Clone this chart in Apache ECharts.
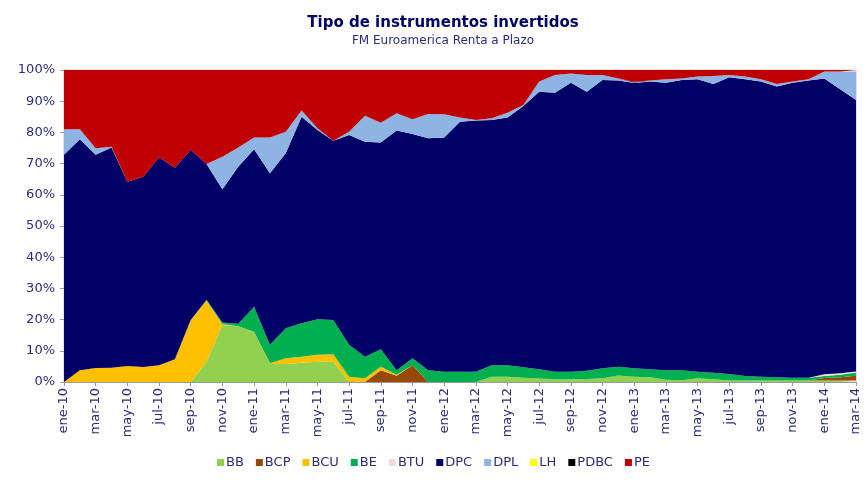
<!DOCTYPE html>
<html><head><meta charset="utf-8">
<script src="https://cdn.jsdelivr.net/npm/echarts@6/dist/echarts.min.js"></script>
<style>html,body{margin:0;padding:0;background:#fff}#c{width:867px;height:486px}</style>
</head><body><div id="c"></div>
<script>
const categories = ["ene-10","feb-10","mar-10","abr-10","may-10","jun-10","jul-10","ago-10","sep-10","oct-10","nov-10","dic-10",
"ene-11","feb-11","mar-11","abr-11","may-11","jun-11","jul-11","ago-11","sep-11","oct-11","nov-11","dic-11",
"ene-12","feb-12","mar-12","abr-12","may-12","jun-12","jul-12","ago-12","sep-12","oct-12","nov-12","dic-12",
"ene-13","feb-13","mar-13","abr-13","may-13","jun-13","jul-13","ago-13","sep-13","oct-13","nov-13","dic-13",
"ene-14","feb-14","mar-14"];
const BB   = [0,0,0,0,0,0,0,0,0,6.5,18.3,17.9,16.1,5.8,5.8,6.2,6.5,6.5,0,0,0,0,0,0,0,0,0,1.7,1.7,1.4,1.1,0.9,0.9,1.0,1.2,2.1,1.7,1.5,0.7,0.6,1.2,0.9,0.5,0.5,0.5,0.5,0.5,0.5,0.5,0.5,0.5];
const BCP  = [0,0,0,0,0,0,0,0,0,0,0,0,0,0,0,0,0,0,0,0,3.8,2.0,5.4,0,0,0,0,0,0,0,0,0,0,0,0,0,0,0,0,0,0,0,0,0,0,0,0,0,0.8,1.0,1.5];
const BCU  = [0,3.8,4.5,4.6,5.1,4.8,5.4,7.3,19.9,19.6,0.3,0,0,0.2,1.8,1.9,2.2,2.4,1.7,1.2,1.1,0.3,0,0,0,0,0,0,0,0,0,0,0,0,0,0,0,0,0,0,0,0,0,0,0,0,0,0,0,0,0];
const BE   = [0,0,0,0,0,0,0,0,0,0.3,0.5,0.8,8.0,5.9,9.6,10.7,11.4,11.0,10.2,6.9,5.6,1.5,2.2,3.8,3.3,3.3,3.3,3.7,3.7,3.3,3.0,2.4,2.4,2.6,3.2,2.8,2.7,2.6,3.1,3.2,2.1,2.1,2.1,1.4,1.2,1.0,0.9,0.9,0.6,0.8,1.0];
const BTU  = [0,0,0,0,0,0,0,0,0,0,0,0,0,0,0,0,0,0,0,0,0,0,0,0,0,0,0,0,0,0,0,0,0,0,0,0,0,0,0,0,0,0,0,0,0,0,0,0,0.6,0.5,0.4];
const DPC  = [72.8,74.0,68.3,70.6,59.1,61.0,66.6,61.4,54.5,43.5,42.7,50.3,50.5,55.0,56.1,66.2,60.7,57.4,67.3,68.9,66.3,76.8,71.9,74.3,75.1,80.1,80.5,78.6,79.4,83.8,88.9,89.4,92.6,89.4,92.4,91.7,91.4,92.2,92.1,93.0,93.7,92.5,95.1,95.1,94.6,93.2,94.5,95.2,94.8,91.0,87.0];
const DPL  = [8.2,3.2,2.1,0.2,0,0,0,0,0,0,10.4,6.2,3.8,11.5,6.9,2.0,0.5,0,1.0,8.3,6.3,5.5,4.7,7.8,7.4,1.4,0.2,0.5,1.5,0.3,3.3,5.7,3.0,5.4,1.6,0.7,0.2,0.3,1.1,0.5,0.9,2.6,0.7,0.9,0.7,0.8,0.4,0.4,2.2,5.7,9.1];
const LH   = [0,0,0,0,0,0,0,0,0,0,0,0,0,0,0,0,0,0,0,0,0,0,0,0,0,0,0,0,0,0,0,0,0,0,0,0,0,0,0,0,0,0,0,0,0,0,0,0,0,0,0];
const PDBC = [0,0,0,0,0,0,0,0,0,0,0,0,0,0,0,0,0,0,0,0,0,0,0,0,0,0,0,0,0,0,0,0,0,0,0,0,0.2,0,0,0,0,0,0,0,0,0,0,0,0,0,0];
const PE   = [19.0,19.0,25.1,24.6,35.8,34.2,28.0,31.3,25.6,30.1,27.8,24.8,21.6,21.6,19.8,13.0,18.7,22.7,19.8,14.7,16.9,13.9,15.8,14.1,14.2,15.2,16.0,15.5,13.7,11.2,3.7,1.6,1.1,1.6,1.6,2.7,3.8,3.4,3.0,2.7,2.1,1.9,1.6,2.1,3.0,4.5,3.7,3.0,0.5,0.5,0.5];

const names  = ["BB","BCP","BCU","BE","BTU","DPC","DPL","LH","PDBC","PE"];
const values = [BB,BCP,BCU,BE,BTU,DPC,DPL,LH,PDBC,PE];
const colors = ["#92D050","#984807","#FFC000","#00B050","#F2DCDB","#000066","#8DB4E2","#FFFF00","#000000","#C00000"];

const navy = "#2b2b7a";
const chart = echarts.init(document.getElementById('c'));
chart.setOption({
  animation:false,
  textStyle:{fontFamily:"DejaVu Sans"},
  title:{
    text:"Tipo de instrumentos invertidos",
    subtext:"FM Euroamerica Renta a Plazo",
    left:438, textAlign:"center", top:11, itemGap:4,
    textStyle:{fontSize:15,fontWeight:"bold",color:"#000066",fontFamily:"DejaVu Sans"},
    subtextStyle:{fontSize:12,color:"#2b2b80",fontFamily:"DejaVu Sans"}
  },
  color:colors,
  legend:{
    bottom:12, left:"center", itemWidth:7, itemHeight:7, itemGap:12,
    icon:"rect",
    textStyle:{fontSize:13,color:navy,padding:[0,0,0,-3]},
    data:names
  },
  grid:{left:64,right:11,top:70,bottom:104,show:true,borderColor:"#c8c8c8",borderWidth:1},
  xAxis:{
    type:"category", data:categories, boundaryGap:false,
    axisLine:{lineStyle:{color:"#999"}},
    axisTick:{interval:1,length:4,lineStyle:{color:"#999"}},
    axisLabel:{interval:1,rotate:90,fontSize:13,color:navy,margin:6}
  },
  yAxis:{
    type:"value", min:0, max:100, interval:10,
    axisLine:{show:true,lineStyle:{color:"#999"}},
    axisTick:{show:true,length:4,lineStyle:{color:"#999"}},
    splitLine:{show:false},
    axisLabel:{formatter:"{value}%",fontSize:13,color:navy,margin:9}
  },
  series:names.map((n,k)=>({
    name:n, type:"line", stack:"total", data:values[k],
    showSymbol:false, symbol:"none",
    lineStyle:{width:0}, areaStyle:{color:colors[k],opacity:1},
    itemStyle:{color:colors[k]}
  }))
});
</script></body></html>
